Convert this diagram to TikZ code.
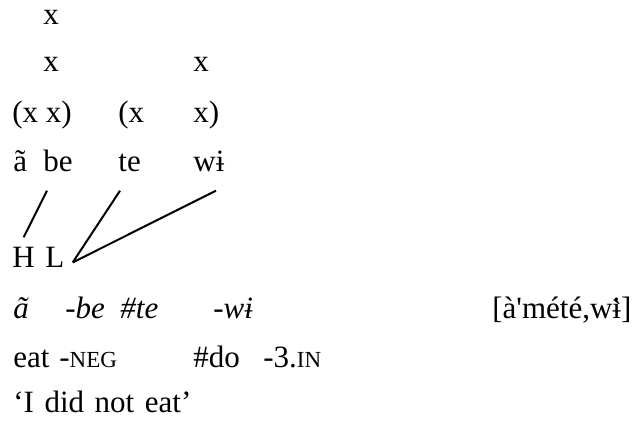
\documentclass[tikz,border=0pt]{standalone}
\usepackage{fontspec}
\setmainfont{Liberation Serif}[Ligatures=TeXOff]
\usepackage{tikz}
\usetikzlibrary{positioning}
\newcommand{\glosssc}[1]{{\fontsize{11.5}{11.5}\selectfont #1}}
\newcommand{\gravebar}{{\setbox0\hbox{ɨ}\rlap{\copy0}\hbox to\wd0{\hss\raisebox{-0.12em}{\symbol{"60}}\hss}}}

\begin{document}
\begin{tikzpicture}[
  x=0.5pt,
  y=-0.5pt,
  word/.style={
    anchor=base west,
    inner sep=0pt,
    font=\fontsize{15.5}{18}\selectfont
  },
  form/.style={
    word,
    font=\fontsize{15.5}{18}\selectfont\itshape
  },
  tone/.style={
    word
  },
  link/.style={line width=1pt}
]
  \useasboundingbox (0,0) rectangle (637,422);

  % metrical grid
  \node[word] (g3) at (43,25) {x};
  \node[word] (g2a) at (43,72) {x};
  \node[word] (g2b) at (193,72) {x};
  \node[word] (ft1) at (12,123) {(x x)};
  \node[word] (ft2) at (118,123) {(x};
  \node[word] (ft3) at (193,123) {x)};

  % syllables
  \node[word] (sa) at (13,172) {ã};
  \node[word] (sbe) at (43,172) {be};
  \node[word] (ste) at (118,172) {te};
  \node[word] (swi) at (193,172) {wɨ};

  % tones
  \node[tone] (H) at (12,268) {H};
  \node[tone] (L) at (45,268) {L};
  \coordinate (Ltip) at ([shift={(8,-6)}]L.south east);

  % morphemes
  \node[form] (ma) at (13,318) {ã};
  \node[form] (mbe) at (65,318) {-be};
  \node[form] (mte) at (120,318) {\#te};
  \node[form] (mwi) at (213,318) {-wɨ};
  \node[word] (surf) at (492,318) {[à'mété,w\gravebar]};

  % gloss
  \node[word] (eat) at (13,367) {eat};
  \node[word] (neg) at (59,367) {-\glosssc{NEG}};
  \node[word] (do) at (193,367) {\#do};
  \node[word] (in) at (263,367) {-3.\glosssc{IN}};

  \node[word] (trans) at (13,412) {\spaceskip=0.34em ‘I did not eat’};

  \draw[link] ([shift={(4,18)}]sbe.south west) -- ([shift={(0,-10)}]H.north);
  \draw[link] ([shift={(2,18)}]ste.south west) -- (Ltip);
  \draw[link] ([shift={(23,18)}]swi.south west) -- (Ltip);

\end{tikzpicture}
\end{document}
